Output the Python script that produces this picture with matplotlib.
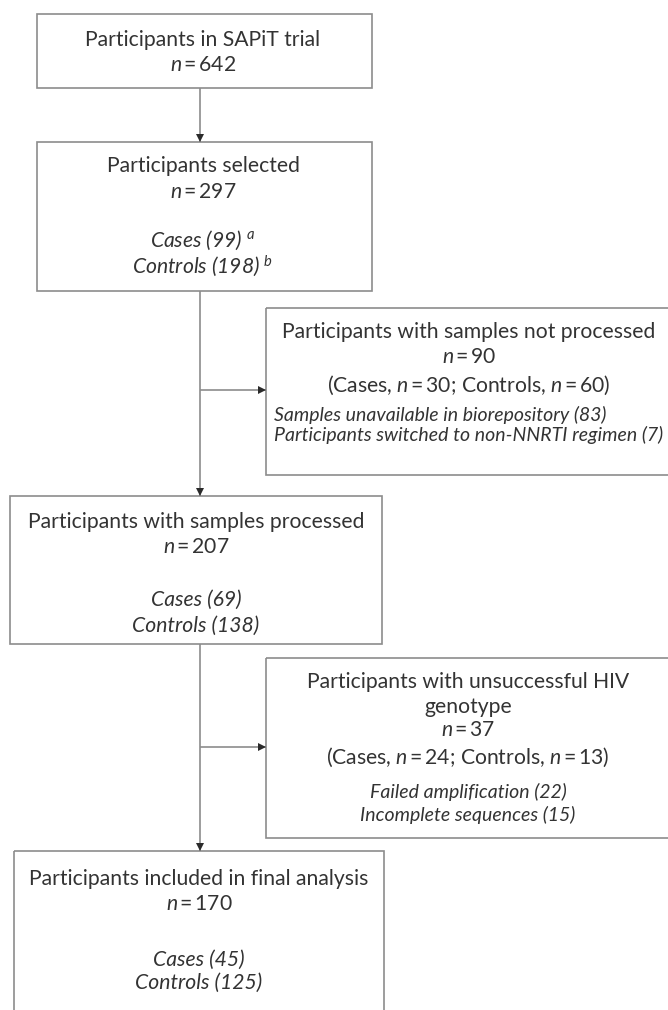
#!/usr/bin/env python3
"""
Flow diagram of participant selection for the SAPiT resistance sub-study
Draws boxes, connector lines and arrows on a pixel-sized canvas
"""

import matplotlib
matplotlib.use('Agg')
import matplotlib.pyplot as plt
from matplotlib.patches import Rectangle

# Box texts (main lines, italic detail lines)
trial_lines = ['Participants in SAPiT trial', '$n$\u2009=\u2009642']
selected_lines = ['Participants selected', '$n$\u2009=\u2009297']
selected_detail = ['Cases (99) ${}^{a}$', 'Controls (198) ${}^{b}$']
notproc_lines = ['Participants with samples not processed', '$n$\u2009=\u200990',
                 '(Cases, $n$\u2009=\u200930; Controls, $n$\u2009=\u200960)']
notproc_detail = ['Samples unavailable in biorepository (83)',
                  'Participants switched to non-NNRTI regimen (7)']
processed_lines = ['Participants with samples processed', '$n$\u2009=\u2009207']
processed_detail = ['Cases (69)', 'Controls (138)']
failed_lines = ['Participants with unsuccessful HIV', 'genotype', '$n$\u2009=\u200937',
                '(Cases, $n$\u2009=\u200924; Controls, $n$\u2009=\u200913)']
failed_detail = ['Failed amplification (22)', 'Incomplete sequences (15)']
final_lines = ['Participants included in final analysis', '$n$\u2009=\u2009170']
final_detail = ['Cases (45)', 'Controls (125)']

TEXT_COLOR = '#333333'
EDGE_COLOR = '#8c8c8c'
HEAD_COLOR = '#2b2b2b'
FONT = 'Lato'
MAIN_SIZE = 15.2
DETAIL_SIZE = 14

plt.rcParams['font.family'] = [FONT, 'DejaVu Sans']
plt.rcParams['mathtext.fontset'] = 'custom'
plt.rcParams['mathtext.rm'] = FONT
plt.rcParams['mathtext.it'] = FONT + ':italic'


def draw_box(ax, x0, y0, x1, y1):
    """Draw a plain rectangular box (pixel coordinates, y down)"""
    ax.add_patch(Rectangle((x0, y0), x1 - x0, y1 - y0, fill=False,
                           edgecolor=EDGE_COLOR, linewidth=1.2, clip_on=True))


def draw_lines(ax, x, ys, lines, italic=False, size=MAIN_SIZE, ha='center'):
    """Write a list of text lines at the given y positions"""
    for y, line in zip(ys, lines):
        ax.text(x, y, line, ha=ha, va='center', fontsize=size,
                color=TEXT_COLOR, style='italic' if italic else 'normal')


def draw_arrow(ax, x0, y0, x1, y1):
    """Grey connector line ending in a small dark triangle"""
    ax.plot([x0, x1], [y0, y1], color=EDGE_COLOR, lw=1.2, solid_capstyle='butt')
    marker = 'v' if x0 == x1 else '>'
    # place the head just short of the target edge
    if x0 == x1:
        hx, hy = x1, y1 - 4
    else:
        hx, hy = x1 - 4, y1
    ax.plot(hx, hy, marker=marker, color=HEAD_COLOR, markersize=6,
            markeredgewidth=0)


fig = plt.figure(figsize=(6.68, 10.10), dpi=100)
ax = fig.add_axes([0, 0, 1, 1])
ax.set_xlim(0, 668)
ax.set_ylim(1010, 0)
ax.axis('off')

# Main column boxes
draw_box(ax, 37, 14, 372, 88)
draw_lines(ax, 203, [40, 65], trial_lines)

draw_box(ax, 37, 142, 372, 291)
draw_lines(ax, 203, [166, 192], selected_lines)
draw_lines(ax, 203, [240, 266], selected_detail, italic=True, size=MAIN_SIZE)

draw_box(ax, 10, 496, 382, 644)
draw_lines(ax, 196, [522, 547], processed_lines)
draw_lines(ax, 196, [600, 626], processed_detail, italic=True, size=MAIN_SIZE)

draw_box(ax, 14, 851, 384, 1020)
draw_lines(ax, 199, [879, 904], final_lines)
draw_lines(ax, 199, [960, 983], final_detail, italic=True, size=MAIN_SIZE)

# Exclusion boxes on the right (run off the page edge)
draw_box(ax, 266, 308, 675, 475)
draw_lines(ax, 469, [332, 357, 385], notproc_lines)
draw_lines(ax, 274, [415, 435], notproc_detail, italic=True, size=DETAIL_SIZE, ha='left')

draw_box(ax, 266, 658, 675, 838)
draw_lines(ax, 468, [682, 707, 730, 757], failed_lines)
draw_lines(ax, 468, [792, 815], failed_detail, italic=True, size=DETAIL_SIZE)

# Connectors
draw_arrow(ax, 200, 88, 200, 142)
draw_arrow(ax, 200, 291, 200, 496)
draw_arrow(ax, 200, 390, 266, 390)
draw_arrow(ax, 200, 644, 200, 851)
draw_arrow(ax, 200, 747, 266, 747)

fig.savefig('out.png', dpi=100, facecolor='white')
